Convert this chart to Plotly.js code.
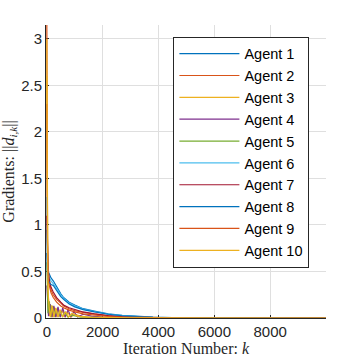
<!DOCTYPE html>
<html>
<head>
<meta charset="utf-8">
<script src="https://cdn.plot.ly/plotly-3.0.1.min.js"></script>
<style>body{margin:0;background:#fff}#plot{width:360px;height:360px}</style>
</head>
<body>
<div id="plot"></div>
<script>
// iteration grid for the smooth curves
const K = [0, 10, 25, 50, 100, 150, 230, 350, 500, 600, 800, 1000, 1300, 1700, 2200, 2700, 3200, 3800, 4500, 6000, 10000];

const agent1 = [0.95, 0.75, 0.6, 0.5, 0.46, 0.43, 0.40, 0.33, 0.26, 0.22, 0.17, 0.14, 0.1, 0.075, 0.045, 0.028, 0.017, 0.009, 0.004, 0.001, 0];
const agent2 = [3.15, 1.6, 0.8, 0.5, 0.38, 0.3, 0.25, 0.2, 0.16, 0.13, 0.1, 0.08, 0.06, 0.04, 0.022, 0.012, 0.007, 0.003, 0.001, 0, 0];
const agent6 = [1.3, 0.9, 0.6, 0.45, 0.42, 0.40, 0.37, 0.31, 0.25, 0.21, 0.16, 0.13, 0.095, 0.07, 0.042, 0.026, 0.015, 0.008, 0.003, 0.001, 0];
const agent7 = [1.1, 1.0, 0.75, 0.5, 0.38, 0.33, 0.28, 0.22, 0.17, 0.14, 0.11, 0.09, 0.065, 0.045, 0.025, 0.014, 0.008, 0.004, 0.002, 0, 0];
const agent8 = [0.7, 0.55, 0.45, 0.4, 0.38, 0.36, 0.35, 0.29, 0.23, 0.2, 0.15, 0.12, 0.09, 0.065, 0.04, 0.024, 0.014, 0.007, 0.003, 0.001, 0];
const agent9 = [2.3, 1.1, 0.6, 0.4, 0.32, 0.27, 0.22, 0.17, 0.13, 0.11, 0.085, 0.065, 0.045, 0.03, 0.016, 0.009, 0.005, 0.002, 0.001, 0, 0];

// oscillating agents keep their own iteration points
const k3 = [0, 10, 30, 60, 100, 150, 200, 260, 330, 400, 480, 560, 650, 750, 860, 1000, 1200, 1500, 2000, 3000, 5000, 10000];
const agent3 = [3.0, 1.5, 0.45, 0.2, 0.02, 0.14, 0.01, 0.12, 0.01, 0.1, 0.01, 0.08, 0.01, 0.06, 0.01, 0.04, 0.02, 0.01, 0.005, 0.002, 0.001, 0];
const k4 = [0, 20, 60, 120, 180, 250, 320, 400, 480, 570, 660, 760, 860, 970, 1100, 1300, 1600, 2000, 3000, 10000];
const agent4 = [0.35, 0.25, 0.02, 0.15, 0.01, 0.13, 0.01, 0.12, 0.01, 0.11, 0.01, 0.09, 0.01, 0.07, 0.01, 0.04, 0.02, 0.01, 0.003, 0];
const k5 = [0, 10, 40, 90, 140, 200, 260, 330, 400, 480, 560, 650, 750, 900, 1200, 2000, 10000];
const agent5 = [0.6, 0.4, 0.05, 0.18, 0.01, 0.13, 0.01, 0.1, 0.01, 0.08, 0.01, 0.06, 0.01, 0.03, 0.01, 0.003, 0];
const k10 = [0, 15, 40, 80, 130, 190, 250, 320, 400, 480, 570, 670, 780, 900, 1100, 1400, 2000, 3000, 10000];
const agent10 = [2.6, 1.0, 0.3, 0.12, 0.01, 0.13, 0.01, 0.11, 0.01, 0.09, 0.01, 0.07, 0.01, 0.05, 0.02, 0.01, 0.004, 0.001, 0];

const colors = ['#0072BD', '#D95319', '#EDB120', '#7E2F8E', '#77AC30', '#4DBEEE', '#A2142F'];

const series = [
    [K, agent1], [K, agent2], [k3, agent3], [k4, agent4], [k5, agent5],
    [K, agent6], [K, agent7], [K, agent8], [K, agent9], [k10, agent10]
];

const data = series.map((s, i) => ({
    x: s[0],
    y: s[1],
    name: 'Agent ' + (i + 1),
    mode: 'lines',
    type: 'scatter',
    line: {color: colors[i % 7], width: 1.2}
}));

const tickFont = {family: 'Liberation Sans, Arial, sans-serif', size: 15, color: '#262626'};
const titleFont = {family: 'Liberation Serif, Times New Roman, serif', size: 16, color: '#262626'};

const layout = {
    width: 360,
    height: 360,
    margin: {l: 46, r: 34, t: 25, b: 42},
    paper_bgcolor: '#fff',
    plot_bgcolor: '#fff',
    showlegend: true,
    xaxis: {
        range: [-30, 10000],
        tickvals: [0, 2000, 4000, 6000, 8000],
        ticks: 'inside', ticklen: 3, tickcolor: '#262626',
        showline: true, linecolor: '#262626', linewidth: 1,
        showgrid: true, gridcolor: '#dfdfdf', zeroline: false,
        layer: 'below traces',
        tickfont: tickFont,
        title: {text: 'Iteration Number: <i>k</i>', font: titleFont, standoff: 0}
    },
    yaxis: {
        range: [0, 3.15],
        tickvals: [0, 0.5, 1, 1.5, 2, 2.5, 3],
        ticks: 'inside', ticklen: 3, tickcolor: '#262626',
        showline: true, linecolor: '#262626', linewidth: 1,
        showgrid: true, gridcolor: '#dfdfdf', zeroline: false,
        layer: 'below traces',
        tickfont: tickFont,
        title: {text: 'Gradients: ||<i>d</i><sub><i>i,k</i></sub>||', font: titleFont, standoff: 2}
    },
    legend: {
        x: 0.455, y: 0.96, xanchor: 'left', yanchor: 'top',
        bgcolor: '#fff', bordercolor: '#262626', borderwidth: 1,
        font: {family: 'Liberation Sans, Arial, sans-serif', size: 14.5, color: '#000'},
        itemwidth: 60
    }
};

Plotly.newPlot('plot', data, layout, {staticPlot: true});
</script>
</body>
</html>
